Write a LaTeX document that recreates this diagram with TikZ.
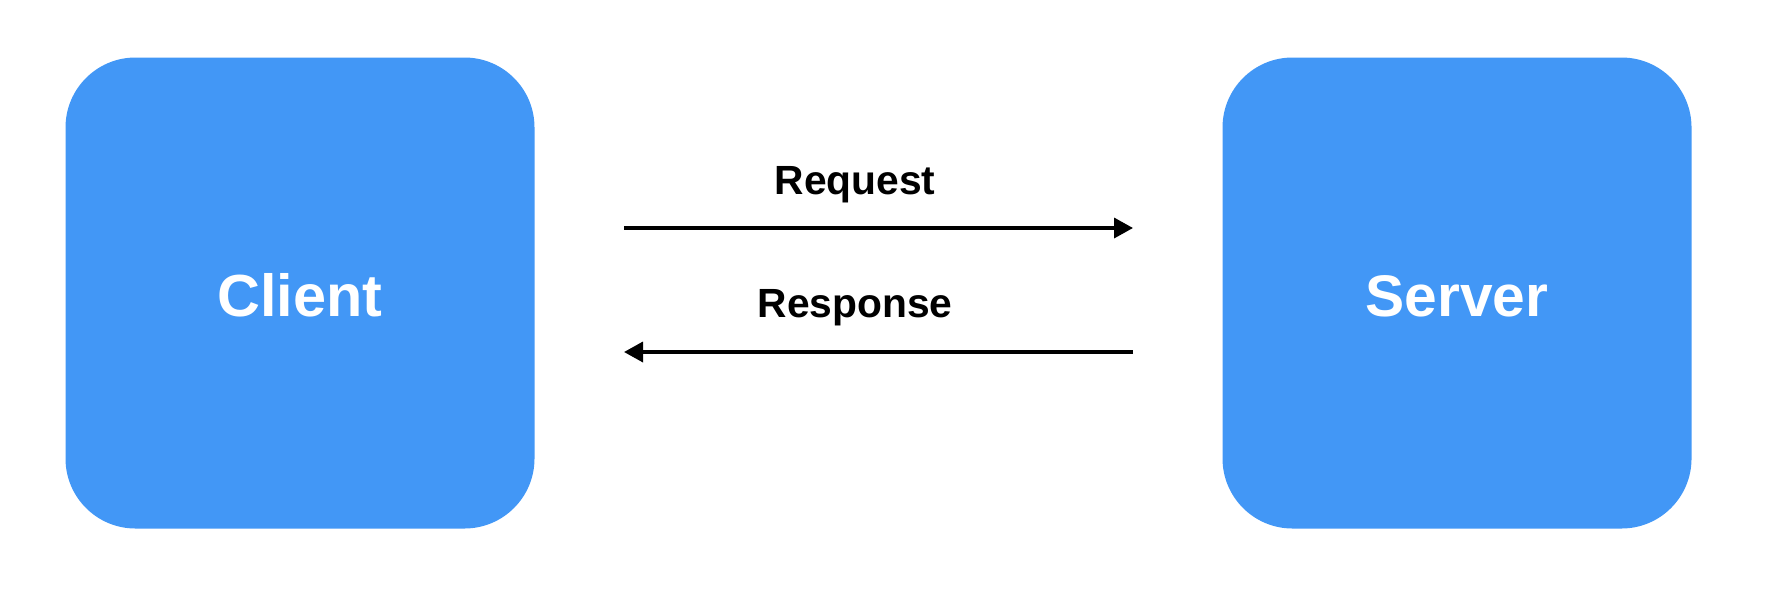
\documentclass[tikz,border=0pt]{standalone}
\usepackage{fontspec}
\setmainfont{Liberation Sans}
\usetikzlibrary{arrows.meta}
\definecolor{boxblue}{HTML}{4297F6}
\begin{document}
\begin{tikzpicture}[
        box/.style={fill=boxblue,rounded corners=7mm,minimum width=4.69cm,minimum height=4.71cm,
            text=white,font=\fontsize{16.7}{20}\selectfont\bfseries},
        lbl/.style={font=\fontsize{11.6}{14}\selectfont\bfseries,anchor=base},
        msg/.style={line width=1pt,-{Triangle[length=1.9mm,width=2mm]}}
    ]
        \useasboundingbox (0,0) rectangle (17.68,5.88);
        \node[box] (client) at (3.00,2.95) {};
        \node[box] (server) at (14.57,2.95) {};
        \node[anchor=base,text=white,font=\fontsize{16.9}{20}\selectfont\bfseries] (clienttxt) at (3.00,2.72) {Client};
        \node[anchor=base,text=white,font=\fontsize{16.7}{20}\selectfont\bfseries] (servertxt) at (14.57,2.72) {Server};
        \coordinate (reqstart) at (6.24,3.60);
        \coordinate (reqend) at (11.33,3.60);
        \coordinate (resstart) at (11.33,2.36);
        \coordinate (resend) at (6.24,2.36);
        \draw[msg] (reqstart) -- (reqend);
        \draw[msg] (resstart) -- (resend);
        \node[lbl] (request) at (8.55,3.94) {Request};
        \node[lbl] (response) at (8.55,2.71) {Response};
    \end{tikzpicture}
\end{document}
